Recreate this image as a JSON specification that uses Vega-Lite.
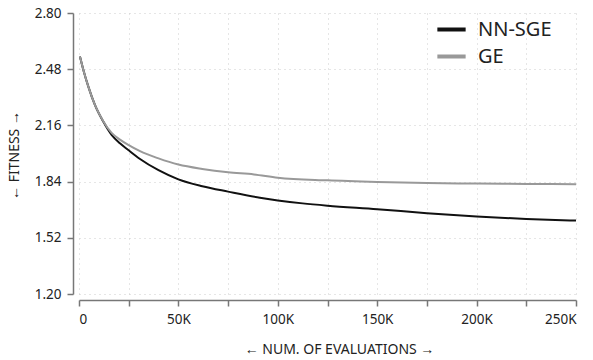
{
  "$schema": "https://vega.github.io/schema/vega-lite/v6.json",
  "width": 497,
  "height": 281,
  "autosize": "none",
  "padding": {"left": 79, "top": 13, "right": 17, "bottom": 66},
  "background": "white",
  "config": {
    "view": {"stroke": null},
    "font": "Noto Sans"
  },
  "data": {
    "values": [
      {"evals": 500, "fitness": 2.552, "method": "NN-SGE"},
      {"evals": 2200, "fitness": 2.476, "method": "NN-SGE"},
      {"evals": 4700, "fitness": 2.381, "method": "NN-SGE"},
      {"evals": 8000, "fitness": 2.277, "method": "NN-SGE"},
      {"evals": 12200, "fitness": 2.182, "method": "NN-SGE"},
      {"evals": 16400, "fitness": 2.106, "method": "NN-SGE"},
      {"evals": 20600, "fitness": 2.058, "method": "NN-SGE"},
      {"evals": 24800, "fitness": 2.02, "method": "NN-SGE"},
      {"evals": 30700, "fitness": 1.969, "method": "NN-SGE"},
      {"evals": 40000, "fitness": 1.905, "method": "NN-SGE"},
      {"evals": 50000, "fitness": 1.853, "method": "NN-SGE"},
      {"evals": 62000, "fitness": 1.814, "method": "NN-SGE"},
      {"evals": 75000, "fitness": 1.783, "method": "NN-SGE"},
      {"evals": 91000, "fitness": 1.748, "method": "NN-SGE"},
      {"evals": 100000, "fitness": 1.733, "method": "NN-SGE"},
      {"evals": 112500, "fitness": 1.716, "method": "NN-SGE"},
      {"evals": 125000, "fitness": 1.703, "method": "NN-SGE"},
      {"evals": 150000, "fitness": 1.683, "method": "NN-SGE"},
      {"evals": 175000, "fitness": 1.66, "method": "NN-SGE"},
      {"evals": 200000, "fitness": 1.641, "method": "NN-SGE"},
      {"evals": 225000, "fitness": 1.627, "method": "NN-SGE"},
      {"evals": 250000, "fitness": 1.618, "method": "NN-SGE"},
      {"evals": 500, "fitness": 2.552, "method": "GE"},
      {"evals": 2200, "fitness": 2.476, "method": "GE"},
      {"evals": 4700, "fitness": 2.381, "method": "GE"},
      {"evals": 8000, "fitness": 2.277, "method": "GE"},
      {"evals": 12200, "fitness": 2.184, "method": "GE"},
      {"evals": 16400, "fitness": 2.117, "method": "GE"},
      {"evals": 20600, "fitness": 2.079, "method": "GE"},
      {"evals": 24800, "fitness": 2.049, "method": "GE"},
      {"evals": 30700, "fitness": 2.013, "method": "GE"},
      {"evals": 40000, "fitness": 1.972, "method": "GE"},
      {"evals": 50000, "fitness": 1.937, "method": "GE"},
      {"evals": 62000, "fitness": 1.912, "method": "GE"},
      {"evals": 75000, "fitness": 1.893, "method": "GE"},
      {"evals": 88000, "fitness": 1.881, "method": "GE"},
      {"evals": 100000, "fitness": 1.862, "method": "GE"},
      {"evals": 125000, "fitness": 1.847, "method": "GE"},
      {"evals": 150000, "fitness": 1.838, "method": "GE"},
      {"evals": 175000, "fitness": 1.832, "method": "GE"},
      {"evals": 200000, "fitness": 1.829, "method": "GE"},
      {"evals": 225000, "fitness": 1.827, "method": "GE"},
      {"evals": 250000, "fitness": 1.825, "method": "GE"}
    ]
  },
  "mark": {"type": "line", "strokeWidth": 2, "interpolate": "monotone", "clip": true},
  "encoding": {
    "x": {
      "field": "evals",
      "type": "quantitative",
      "scale": {"domain": [0, 250000], "nice": false},
      "axis": {
        "title": "← NUM. OF EVALUATIONS →",
        "titleFont": "Noto Sans",
        "titleFontSize": 14,
        "titleFontWeight": "normal",
        "titleColor": "#222",
        "titleX": 260,
        "titleY": 49,
        "titleAlign": "center",
        "titleBaseline": "middle",
        "values": [0, 25000, 50000, 75000, 100000, 125000, 150000, 175000, 200000, 225000, 250000],
        "labelExpr": "datum.value == 0 ? '0' : (datum.value % 50000 == 0 ? (datum.value/1000) + 'K' : '')",
        "labelFont": "Noto Sans",
        "labelFontSize": 13.5,
        "labelColor": "#222",
        "labelPadding": 6,
        "offset": 6,
        "domainColor": "#777",
        "domainWidth": 1.5,
        "tickColor": "#777",
        "tickWidth": 1.5,
        "tickSize": 6,
        "grid": true,
        "gridColor": "#cccccc",
        "gridDash": [1, 4]
      }
    },
    "y": {
      "field": "fitness",
      "type": "quantitative",
      "scale": {"domain": [1.2, 2.8], "nice": false, "zero": false},
      "axis": {
        "title": "← FITNESS →",
        "titleFont": "Noto Sans",
        "titleFontSize": 14,
        "titleFontWeight": "normal",
        "titleColor": "#222",
        "titleX": -59,
        "titleY": 142,
        "titleAlign": "center",
        "titleBaseline": "middle",
        "values": [1.2, 1.52, 1.84, 2.16, 2.48, 2.8],
        "format": ".2f",
        "labelFont": "Noto Sans",
        "labelFontSize": 13.5,
        "labelColor": "#222",
        "labelPadding": 6,
        "offset": 6,
        "domainColor": "#777",
        "domainWidth": 1.5,
        "tickColor": "#777",
        "tickWidth": 1.5,
        "tickSize": 6,
        "grid": true,
        "gridColor": "#cccccc",
        "gridDash": [1, 4]
      }
    },
    "color": {
      "field": "method",
      "type": "nominal",
      "scale": {"domain": ["NN-SGE", "GE"], "range": ["#111111", "#999999"]},
      "legend": {
        "title": null,
        "orient": "none",
        "legendX": 356,
        "legendY": 0,
        "symbolType": "stroke",
        "symbolSize": 800,
        "symbolStrokeWidth": 4,
        "labelFont": "Noto Sans",
        "labelFontSize": 20,
        "labelColor": "#222",
        "labelOffset": 10,
        "rowPadding": 0
      }
    }
  }
}
